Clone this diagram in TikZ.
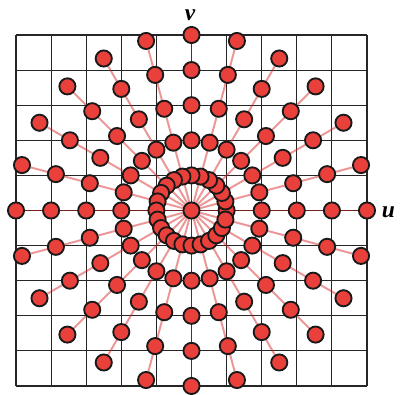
\documentclass[tikz,border=0pt]{standalone}
\usepackage{fontspec}
\setmainfont{Liberation Serif}

\definecolor{dotred}{RGB}{234,64,60}
\definecolor{spokered}{RGB}{215,25,25}

\def\dotsize{.46cm}
\tikzstyle{sample} = [circle,
minimum size=\dotsize,
inner sep=0pt,
line width=1.5pt,
draw=black!90,
fill=dotred]
\tikzstyle{spoke} = [draw=spokered,
line width=1.6pt,
opacity=.45]
\tikzstyle{gridline} = [draw=black!85,
line width=.9pt]
\tikzstyle{axislabel} = [inner sep=0pt,
font=\fontsize{19}{21}\selectfont\bfseries\itshape]

\pgfdeclarelayer{gridlayer}
\pgfdeclarelayer{spokes}
\pgfsetlayers{gridlayer,spokes,main}

\begin{document}
\begin{tikzpicture}
    \useasboundingbox (-5.456,-5.256) rectangle (5.94,5.997);
    %%%%%%%%%%%%%%%%%%%%%%%%%%%%%%%%%%%%%%%%
    % Cartesian grid
    %%%%%%%%%%%%%%%%%%%%%%%%%%%%%%%%%%%%%%%%
    \begin{pgfonlayer}{gridlayer}
        \fill[white] (-5.456,-5.256) rectangle (5.94,5.997);
        \draw[gridline] (-5,-5) grid (5,5);
    \end{pgfonlayer}
    %%%%%%%%%%%%%%%%%%%%%%%%%%%%%%%%%%%%%%%%
    % Polar samples
    %%%%%%%%%%%%%%%%%%%%%%%%%%%%%%%%%%%%%%%%
    \node (c) [sample] at (0,0) {};
    \foreach \a in {0,...,23}
        \foreach \r in {1,...,5}
            \node (p-\a-\r) [sample] at (\a*15:\r) {};
    %%%%%%%%%%%%%%%%%%%%%%%%%%%%%%%%%%%%%%%%
    % Spokes
    %%%%%%%%%%%%%%%%%%%%%%%%%%%%%%%%%%%%%%%%
    \begin{pgfonlayer}{spokes}
        \foreach \a in {0,...,23}
            \draw[spoke] (c) -- (p-\a-5);
    \end{pgfonlayer}
    %%%%%%%%%%%%%%%%%%%%%%%%%%%%%%%%%%%%%%%%
    % Axes
    %%%%%%%%%%%%%%%%%%%%%%%%%%%%%%%%%%%%%%%%
    \node (vlab) [axislabel, anchor=base] at (-0.04,5.40) {v};
    \node (ulab) [axislabel, anchor=base west] at (5.42,-0.21) {u};
\end{tikzpicture}
\end{document}
